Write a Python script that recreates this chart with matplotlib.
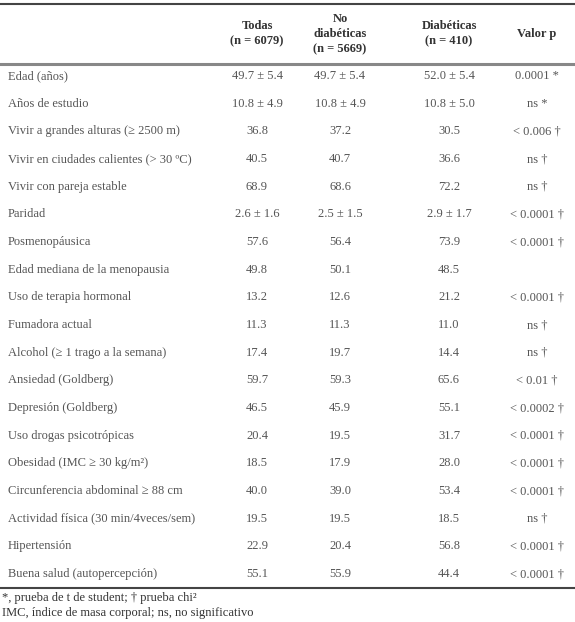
import matplotlib.pyplot as plt

labels = ["Edad (años)", "Años de estudio", "Vivir a grandes alturas (≥ 2500 m)",
          "Vivir en ciudades calientes (> 30 ºC)", "Vivir con pareja estable", "Paridad",
          "Posmenopáusica", "Edad mediana de la menopausia", "Uso de terapia hormonal",
          "Fumadora actual", "Alcohol (≥ 1 trago a la semana)", "Ansiedad (Goldberg)",
          "Depresión (Goldberg)", "Uso drogas psicotrópicas", "Obesidad (IMC ≥ 30 kg/m²)",
          "Circunferencia abdominal ≥ 88 cm", "Actividad física (30 min/4veces/sem)",
          "Hipertensión", "Buena salud (autopercepción)"]
todas = ["49.7 ± 5.4", "10.8 ± 4.9", "36.8", "40.5", "68.9", "2.6 ± 1.6", "57.6", "49.8",
         "13.2", "11.3", "17.4", "59.7", "46.5", "20.4", "18.5", "40.0", "19.5", "22.9", "55.1"]
no_diab = ["49.7 ± 5.4", "10.8 ± 4.9", "37.2", "40.7", "68.6", "2.5 ± 1.5", "56.4", "50.1",
           "12.6", "11.3", "19.7", "59.3", "45.9", "19.5", "17.9", "39.0", "19.5", "20.4", "55.9"]
diab = ["52.0 ± 5.4", "10.8 ± 5.0", "30.5", "36.6", "72.2", "2.9 ± 1.7", "73.9", "48.5",
        "21.2", "11.0", "14.4", "65.6", "55.1", "31.7", "28.0", "53.4", "18.5", "56.8", "44.4"]
pval = ["0.0001 *", "ns *", "< 0.006 †", "ns †", "ns †", "< 0.0001 †", "< 0.0001 †", "",
        "< 0.0001 †", "ns †", "ns †", "< 0.01 †", "< 0.0002 †", "< 0.0001 †", "< 0.0001 †",
        "< 0.0001 †", "ns †", "< 0.0001 †", "< 0.0001 †"]
headers = ["Todas\n(n = 6079)", "No\ndiabéticas\n(n = 5669)", "Diabéticas\n(n = 410)", "Valor p"]

plt.rcParams['font.family'] = ['Liberation Serif', 'DejaVu Serif']
W, H = 575, 622
fig = plt.figure(figsize=(W / 100, H / 100), dpi=100)
ax = fig.add_axes([0, 0, 1, 1])
ax.set_xlim(0, W)
ax.set_ylim(H, 0)
ax.axis('off')

col_x = [257, 340, 449, 537]
tc = '#555555'
fs = 9

ax.plot([0, W], [4, 4], color='#444444', lw=1.5)
ax.plot([0, W], [64, 64], color='#888888', lw=2.2)
ax.plot([0, W], [588, 588], color='#444444', lw=1.5)

for x, h in zip(col_x, headers):
    ax.text(x, 34, h, ha='center', va='center', fontsize=fs, fontweight='bold',
            color='#333333', linespacing=1.35)

y0, dy = 76, 27.67
for i, lab in enumerate(labels):
    y = y0 + i * dy
    ax.text(8, y, lab, ha='left', va='center', fontsize=fs, color=tc)
    for x, col in zip(col_x, [todas, no_diab, diab, pval]):
        ax.text(x, y, col[i], ha='center', va='center', fontsize=fs, color=tc)

ax.text(2, 598, "*, prueba de t de student; † prueba chi²", ha='left', va='center',
        fontsize=fs, color='#333333')
ax.text(2, 613, "IMC, índice de masa corporal; ns, no significativo", ha='left',
        va='center', fontsize=fs, color='#333333')

fig.savefig('out.png', dpi=100)
